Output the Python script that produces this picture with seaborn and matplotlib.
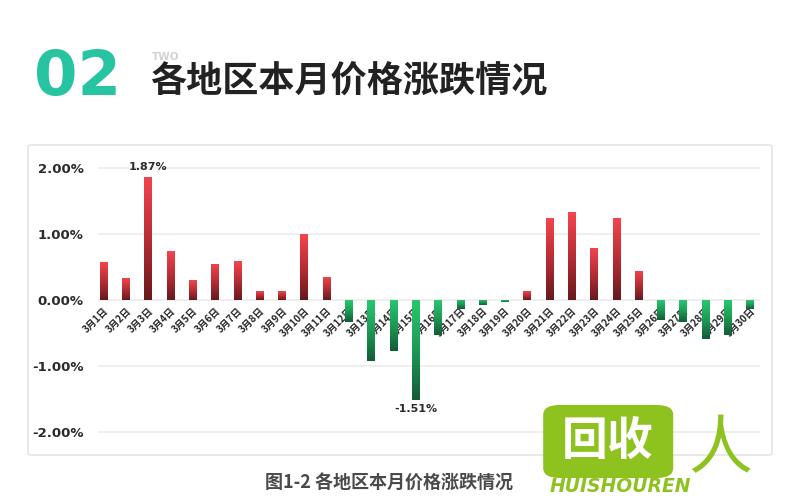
import numpy as np
import matplotlib.pyplot as plt
import seaborn as sns
from matplotlib.colors import LinearSegmentedColormap
from matplotlib.patches import FancyBboxPatch

# daily price change, March (%)
days = [f"3月{d}日" for d in range(1, 31)]
changes = [0.58, 0.33, 1.87, 0.74, 0.30, 0.55, 0.59, 0.13, 0.13, 1.00,
           0.35, -0.33, -0.92, -0.78, -1.51, -0.53, -0.14, -0.08, -0.03, 0.13,
           1.24, 1.33, 0.79, 1.24, 0.44, -0.30, -0.33, -0.59, -0.53, -0.13]
yticks = [-2, -1, 0, 1, 2]
labelled = ["3月3日", "3月15日"]

title_num = "02"
title_sub = "TWO"
title = "各地区本月价格涨跌情况"
caption = "图1-2 各地区本月价格涨跌情况"

sns.set_theme(style="white")
plt.rcParams['font.family'] = ['Noto Sans CJK SC', 'DejaVu Sans']

fig = plt.figure(figsize=(8, 5), dpi=100)
fig.patch.set_facecolor('white')

# chart card
card = FancyBboxPatch((0.035, 0.09), 0.93, 0.62, boxstyle="round,pad=0,rounding_size=0.004",
                      transform=fig.transFigure, facecolor='white', edgecolor='#e9e9e9',
                      linewidth=1.5, zorder=-1)
fig.add_artist(card)

ax = fig.add_axes([0.1219, 0.1294, 0.8281, 0.5412])
ax.patch.set_alpha(0)

sns.barplot(x=days, y=changes, color='#e84149', width=0.33, ax=ax, zorder=2)

# gradient fill for each bar
red_cm = LinearSegmentedColormap.from_list('r', ['#661a1e', '#b82d34', '#f4454d'])
green_cm = LinearSegmentedColormap.from_list('g', ['#135b37', '#1d9a55', '#27c86f'])
grad = np.linspace(0, 1, 256).reshape(-1, 1)
for p in list(ax.patches):
    x0, y0 = p.get_x(), p.get_y()
    w, h = p.get_width(), p.get_height()
    ylo, yhi = min(y0, y0 + h), max(y0, y0 + h)
    cm = red_cm if h >= 0 else green_cm
    im = ax.imshow(grad, cmap=cm, extent=[x0, x0 + w, ylo, yhi], origin='lower',
                   aspect='auto', zorder=2, interpolation='bicubic')
    im.set_clip_path(p)
    p.set_facecolor('none')
    p.set_edgecolor('none')

ax.set_xlim(-0.27, 29.45)
ax.set_ylim(-2.05, 2.05)
ax.set_yticks(yticks)
ax.set_yticklabels([f"{v:.2f}%" for v in yticks], fontsize=9.5, fontweight='bold', color='#2b2b2b',
                   family=['DejaVu Sans'])
for v in yticks:
    ax.axhline(v, color='#ebebeb', lw=1.1, zorder=1)

for s in ['top', 'right', 'left']:
    ax.spines[s].set_visible(False)
ax.spines['bottom'].set_position(('data', 0))
ax.spines['bottom'].set_visible(False)
ax.set_xticks(range(len(days)))
ax.set_xticklabels(days, rotation=45, ha='right', rotation_mode='anchor',
                   fontsize=7, fontweight='bold', color='#262626')
ax.tick_params(axis='x', length=0, pad=4)
ax.tick_params(axis='y', length=0, pad=10)
ax.set_xlabel('')
ax.set_ylabel('')

for d in labelled:
    i = days.index(d)
    v = changes[i]
    ax.annotate(f"{v:.2f}%", (i, v), xytext=(0, 3 if v > 0 else -3), textcoords='offset points',
                ha='center', va='bottom' if v > 0 else 'top', fontsize=8,
                fontweight='bold', color='#2b2b2b', family=['DejaVu Sans'], zorder=5)

# header
fig.text(0.042, 0.81, title_num, fontsize=45, fontweight='heavy', color='#27c4a1',
         family=['DejaVu Sans'], va='baseline')
fig.text(0.19, 0.88, title_sub, fontsize=7.5, fontweight='bold', color='#d2d2d2',
         family=['DejaVu Sans'], va='baseline')
fig.text(0.188, 0.835, title, fontsize=26, fontweight='bold', color='#222222', va='center')

fig.text(0.331, 0.034, caption, fontsize=13, fontweight='bold', color='#4a4a4a', va='center')

# watermark logo
logo = FancyBboxPatch((0.679, 0.044), 0.1625, 0.146, boxstyle="round,pad=0,rounding_size=0.02",
                      transform=fig.transFigure, facecolor='#8dc21f', edgecolor='none', zorder=10)
fig.add_artist(logo)
fig.text(0.76, 0.117, "回收", fontsize=33, fontweight='bold', color='white',
         ha='center', va='center', zorder=11)
fig.text(0.9, 0.1, "人", fontsize=46, fontweight='normal', color='#8dc21f',
         ha='center', va='center', zorder=11)
fig.text(0.775, 0.026, "HUISHOUREN", fontsize=13.5, fontweight='bold', style='italic',
         color='#8dc21f', family=['DejaVu Sans'], ha='center', va='center', zorder=11)

fig.savefig('out.png', dpi=100, facecolor='white')
